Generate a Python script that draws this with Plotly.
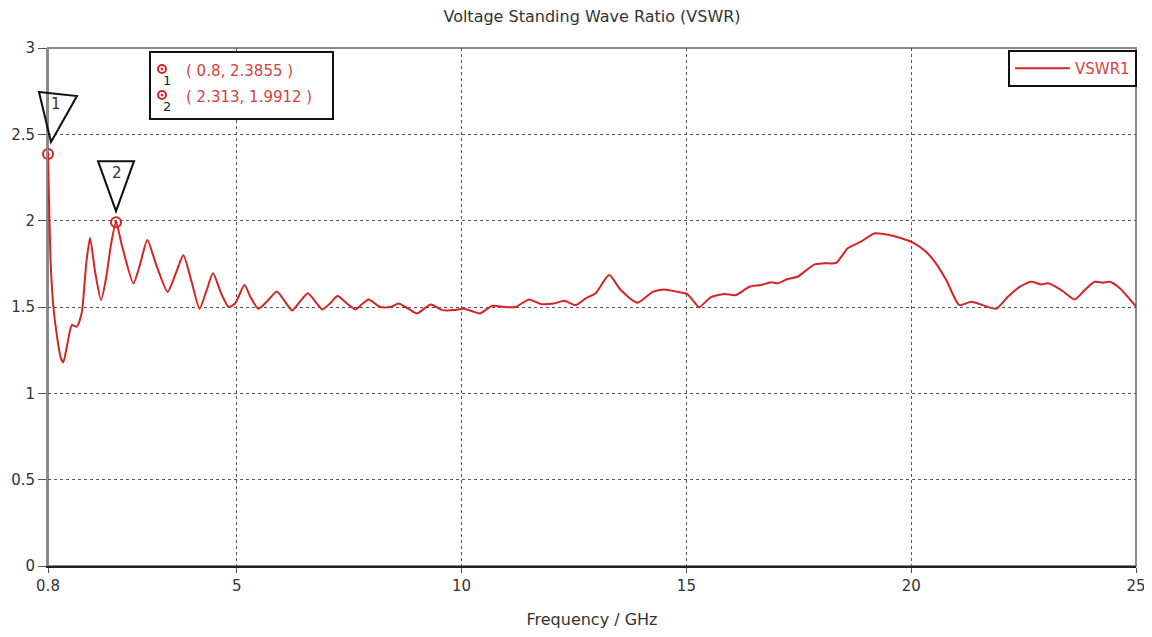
import plotly.graph_objects as go

freq_ghz = [0.8, 0.82, 0.86, 0.92, 1.0, 1.08, 1.14, 1.22, 1.33, 1.44, 1.55, 1.65, 1.735, 1.85, 1.98,
            2.1, 2.2, 2.313, 2.45, 2.7, 2.85, 3.01, 3.2, 3.46, 3.65, 3.81, 4.0, 4.17, 4.32, 4.47,
            4.65, 4.82, 4.96, 5.17, 5.3, 5.48, 5.7, 5.89, 6.05, 6.23, 6.4, 6.58, 6.75, 6.90, 7.07,
            7.24, 7.45, 7.64, 7.8, 7.93, 8.19, 8.42, 8.60, 8.75, 9.01, 9.31, 9.57, 9.83, 10.05,
            10.24, 10.41, 10.68, 10.94, 11.20, 11.50, 11.76, 12.05, 12.28, 12.54, 12.76, 12.98,
            13.28, 13.54, 13.91, 14.25, 14.50, 14.80, 15.02, 15.17, 15.28, 15.54, 15.84, 16.10,
            16.40, 16.66, 16.88, 17.03, 17.25, 17.47, 17.85, 18.07, 18.33, 18.59, 18.88, 19.18,
            19.51, 19.78, 20.07, 20.33, 20.55, 20.78, 21.07, 21.33, 21.59, 21.89, 22.15, 22.41,
            22.67, 22.89, 23.04, 23.34, 23.64, 23.86, 24.08, 24.27, 24.42, 24.64, 25.0]

vswr1 = [2.3855, 2.15, 1.75, 1.5, 1.33, 1.21, 1.18, 1.27, 1.395, 1.386, 1.465, 1.75, 1.90, 1.70, 1.54,
         1.68, 1.86, 1.9912, 1.85, 1.637, 1.75, 1.888, 1.75, 1.588, 1.70, 1.80, 1.64, 1.49, 1.59, 1.695,
         1.58, 1.50, 1.52, 1.627, 1.56, 1.49, 1.54, 1.59, 1.54, 1.48, 1.53, 1.58, 1.53, 1.486, 1.52,
         1.563, 1.52, 1.486, 1.52, 1.544, 1.50, 1.50, 1.52, 1.50, 1.463, 1.515, 1.482, 1.482, 1.49,
         1.475, 1.463, 1.507, 1.50, 1.50, 1.544, 1.517, 1.52, 1.536, 1.511, 1.55, 1.579,
         1.685, 1.598, 1.525, 1.588, 1.602, 1.588, 1.575, 1.53, 1.498, 1.556, 1.575, 1.569,
         1.617, 1.627, 1.643, 1.637, 1.662, 1.675, 1.747, 1.753, 1.756, 1.84, 1.878, 1.926,
         1.917, 1.898, 1.869, 1.82, 1.753, 1.656, 1.511, 1.53, 1.511, 1.49, 1.559, 1.617,
         1.646, 1.631, 1.637, 1.598, 1.544, 1.598, 1.646, 1.641, 1.646, 1.608, 1.502]

marker_ids = ["1", "2"]
marker_x = [0.8, 2.313]
marker_y = [2.3855, 1.9912]

x_range = [0.8, 25]
y_range = [0, 3]
x_tickvals = [0.8, 5, 10, 15, 20, 25]
x_ticktext = ["0.8", "5", "10", "15", "20", "25"]
y_tickvals = [0, 0.5, 1, 1.5, 2, 2.5, 3]
y_ticktext = ["0", "0.5", "1", "1.5", "2", "2.5", "3"]

RED = "#d42424"
TXT_RED = "#d84040"
FONT = "DejaVu Sans"

# page has an 8px body margin; the figure is sized so it fills the 1152x637 window
FIG_W, FIG_H = 1144, 629

fig = go.Figure()
fig.add_trace(go.Scatter(x=freq_ghz, y=vswr1, mode="lines", name="VSWR1",
                         line=dict(color=RED, width=2, shape="spline", smoothing=0.6)))
fig.add_trace(go.Scatter(x=marker_x, y=marker_y, mode="markers", showlegend=False,
                         cliponaxis=False,
                         marker=dict(symbol="circle-open-dot", size=10, color=RED,
                                     line=dict(width=2, color=RED))))

shapes = []
annotations = []
# plot frame (gray)
shapes.append(dict(type="rect", xref="paper", yref="paper", x0=0, x1=1, y0=0, y1=1,
                   line=dict(color="#8a8a8a", width=2), layer="below"))

# triangle flags above the markers (paper refs so they are not clipped)
tri_paths = ["M -9,62 L 29,58 L 3,12 Z", "M -18,61 L 18,61 L 0,11 Z"]
num_offsets = [(8, 50), (1, 49)]
for i, (mx, my) in enumerate(zip(marker_x, marker_y)):
    ax = (mx - x_range[0]) / (x_range[1] - x_range[0])
    ay = (my - y_range[0]) / (y_range[1] - y_range[0])
    shapes.append(dict(type="path", xref="paper", yref="paper", xsizemode="pixel",
                       ysizemode="pixel", xanchor=ax, yanchor=ay, path=tri_paths[i],
                       line=dict(color="#111111", width=2), fillcolor="rgba(255,255,255,0)"))
    annotations.append(dict(x=ax, y=ay, xref="paper", yref="paper", text=marker_ids[i],
                            showarrow=False, xanchor="center", yanchor="middle",
                            xshift=num_offsets[i][0], yshift=num_offsets[i][1],
                            font=dict(family=FONT, size=15, color="#333333")))

# marker readout box (positions given in window pixels)
def px2x(px):
    return (px - 48) / 1088

def px2y(py):
    return (566 - py) / 518

shapes.append(dict(type="rect", xref="paper", yref="paper", x0=px2x(150), x1=px2x(333),
                   y0=px2y(119), y1=px2y(52), line=dict(color="#111111", width=2),
                   fillcolor="white", layer="above"))
row_y = [69, 95]
for i in range(2):
    cx, cy = px2x(162), px2y(row_y[i])
    shapes.append(dict(type="circle", xref="paper", yref="paper", xsizemode="pixel",
                       ysizemode="pixel", xanchor=cx, yanchor=cy, x0=-4, x1=4, y0=-4, y1=4,
                       line=dict(color=RED, width=2)))
    shapes.append(dict(type="circle", xref="paper", yref="paper", xsizemode="pixel",
                       ysizemode="pixel", xanchor=cx, yanchor=cy, x0=-1, x1=1, y0=-1, y1=1,
                       line=dict(color=RED, width=1), fillcolor=RED))
    annotations.append(dict(x=px2x(167), y=px2y(row_y[i] + 11), xref="paper", yref="paper",
                            text=marker_ids[i], showarrow=False, xanchor="center",
                            yanchor="middle",
                            font=dict(family=FONT, size=13, color="#222222")))
    annotations.append(dict(x=px2x(184), y=px2y(row_y[i] + 2), xref="paper", yref="paper",
                            xanchor="left", yanchor="middle", showarrow=False,
                            text=f"( {marker_x[i]:g}, {marker_y[i]:.4f} )",
                            font=dict(family=FONT, size=15, color=TXT_RED)))

fig.update_layout(
    width=FIG_W, height=FIG_H,
    margin=dict(l=40, r=16, t=40, b=71, autoexpand=False),
    paper_bgcolor="white", plot_bgcolor="white",
    title=dict(text="Voltage Standing Wave Ratio (VSWR)", x=584 / FIG_W, xanchor="center",
               y=1 - 8 / FIG_H, yanchor="middle",
               font=dict(family=FONT, size=16, color="#333333")),
    xaxis=dict(range=x_range, tickvals=x_tickvals, ticktext=x_ticktext, automargin=False,
               showgrid=True, gridcolor="#555555", gridwidth=1, griddash="3px,3px",
               showline=True, linecolor="#222222", linewidth=2, zeroline=False,
               ticks="outside", ticklen=5, tickcolor="#555555",
               tickfont=dict(family=FONT, size=15, color="#333333"),
               title=dict(text="Frequency / GHz", standoff=20,
                          font=dict(family=FONT, size=16, color="#333333"))),
    yaxis=dict(range=y_range, tickvals=y_tickvals, ticktext=y_ticktext, automargin=False,
               showgrid=True, gridcolor="#555555", gridwidth=1, griddash="3px,3px",
               showline=True, linecolor="#8a8a8a", linewidth=2, zeroline=False,
               ticks="outside", ticklen=8, tickcolor="#555555",
               tickfont=dict(family=FONT, size=15, color="#333333")),
    legend=dict(x=1.001, y=0.996, xanchor="right", yanchor="top", bgcolor="white",
                bordercolor="#111111", borderwidth=2, itemwidth=55,
                font=dict(family=FONT, size=15, color=TXT_RED)),
    shapes=shapes, annotations=annotations,
)

fig.write_html("out.html")
